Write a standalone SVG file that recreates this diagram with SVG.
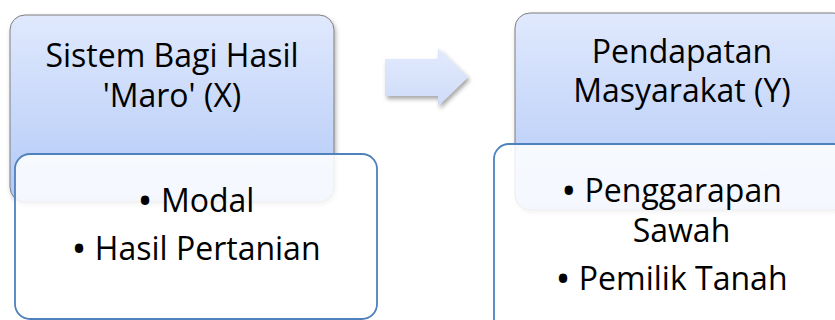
<svg xmlns="http://www.w3.org/2000/svg" width="835" height="320" viewBox="0 0 835 320">
<defs>
<linearGradient id="gTop" x1="0" y1="0" x2="0" y2="1">
<stop offset="0" stop-color="#e0e9fd"/>
<stop offset="1" stop-color="#b2c9f7"/>
</linearGradient>
<linearGradient id="gArrow" x1="0" y1="0" x2="0" y2="1">
<stop offset="0" stop-color="#e2eafc"/>
<stop offset="1" stop-color="#cfdcf9"/>
</linearGradient>
<filter id="sh" x="-10%" y="-10%" width="125%" height="125%">
<feDropShadow dx="1.5" dy="2.5" stdDeviation="2" flood-color="#000" flood-opacity="0.3"/>
</filter>
<filter id="shA" x="-20%" y="-20%" width="150%" height="160%">
<feDropShadow dx="2" dy="3" stdDeviation="2" flood-color="#000" flood-opacity="0.35"/>
</filter>
</defs>
<style>
.top{fill:url(#gTop);stroke:#7f7f7f;stroke-width:1}
.sub{fill:#ffffff;fill-opacity:0.86;stroke:#4f81bd;stroke-width:1.8}
.t{font-family:"Open Sans","Noto Sans",sans-serif;fill:#000;text-anchor:middle}
.h{font-size:32px}
.b{font-size:32px}
.bu{font-size:40px}
</style>
<g id="nodeX">
<rect class="top" x="10" y="15" width="324" height="187" rx="15" filter="url(#sh)"/>
<text class="t h" x="172" y="67">Sistem Bagi Hasil</text>
<text class="t h" x="172" y="107">'Maro' (X)</text>
</g>
<g id="nodeXsub">
<rect class="sub" x="15" y="154" width="362" height="165" rx="15"/>
<text class="t b" x="196" y="212"><tspan class="bu" dy="3">•</tspan><tspan dy="-3"> Modal</tspan></text>
<text class="t b" x="196" y="260"><tspan class="bu" dy="3">•</tspan><tspan dy="-3"> Hasil Pertanian</tspan></text>
</g>
<g id="connectors">
<path d="M385,59 L438,59 L438,48 L468,77 L438,106 L438,96 L385,96 Z" fill="url(#gArrow)" filter="url(#shA)"/>
</g>
<g id="nodeY">
<rect class="top" x="515" y="13" width="333" height="197" rx="15" filter="url(#sh)"/>
<text class="t h" x="682" y="63">Pendapatan</text>
<text class="t h" x="682" y="102">Masyarakat (Y)</text>
</g>
<g id="nodeYsub">
<rect class="sub" x="494" y="144" width="355" height="190" rx="15"/>
<text class="t b" x="671.5" y="202"><tspan class="bu" dy="3">•</tspan><tspan dy="-3"> Penggarapan</tspan></text>
<text class="t b" x="681.5" y="242">Sawah</text>
<text class="t b" x="671.5" y="290"><tspan class="bu" dy="3">•</tspan><tspan dy="-3"> Pemilik Tanah</tspan></text>
</g>
</svg>
